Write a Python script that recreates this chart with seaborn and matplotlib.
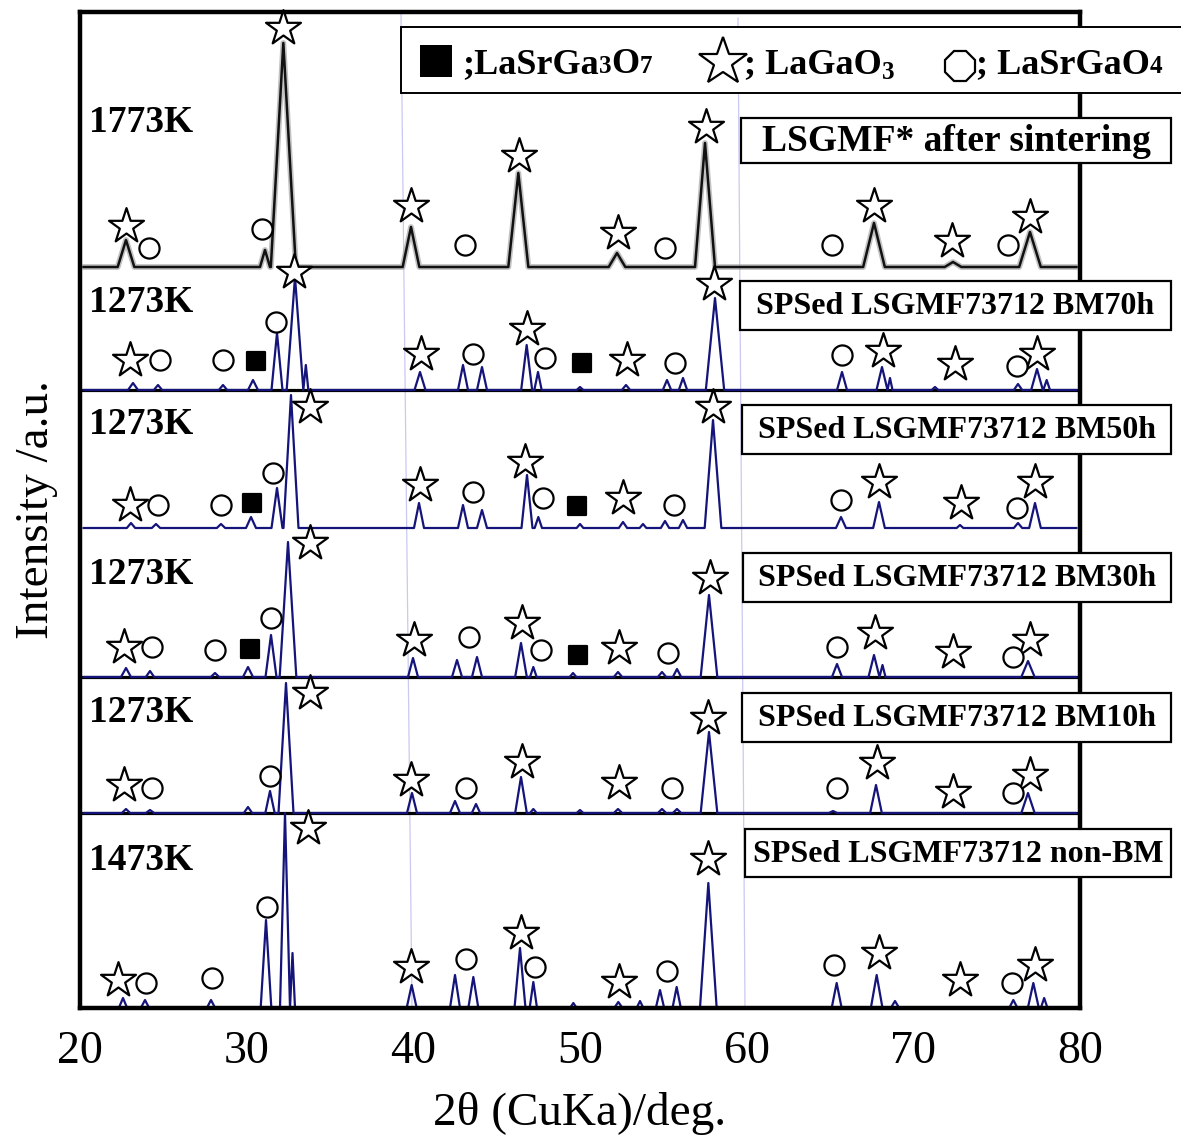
import matplotlib
matplotlib.use("Agg")
import matplotlib.pyplot as plt
from matplotlib.patches import Rectangle
import pandas as pd
import seaborn as sns

# ---------------- diffraction peaks: 2θ (deg), height (a.u.), half base width (deg)
theta_1773 = [22.76, 31.1, 32.2, 39.86, 46.3, 52.22, 57.5, 67.64, 72.38, 77.0]
inten_1773 = [27, 17, 224, 40, 94, 14, 124, 44, 5, 35]
width_1773 = [0.5, 0.3, 0.75, 0.5, 0.6, 0.5, 0.6, 0.65, 0.5, 0.65]

theta_bm70 = [23.18, 24.68, 28.58, 30.38, 31.82, 32.9, 33.55, 40.4, 42.98, 44.12, 46.8, 47.48,
              50.0, 52.76, 55.22, 56.18, 58.1, 65.72, 68.12, 68.6, 71.3, 76.28, 77.42, 78.0]
inten_bm70 = [7, 5, 5, 10, 57, 113, 25, 18, 25, 23, 45, 18,
              3, 5, 10, 12, 92, 18, 23, 12, 3, 6, 21, 10]
width_bm70 = [0.3, 0.25, 0.25, 0.3, 0.33, 0.5, 0.15, 0.33, 0.3, 0.3, 0.33, 0.22,
              0.2, 0.25, 0.25, 0.25, 0.55, 0.3, 0.33, 0.15, 0.2, 0.25, 0.35, 0.2]

theta_bm50 = [23.06, 24.56, 28.46, 30.26, 31.82, 32.66, 40.34, 42.98, 44.12, 46.82, 47.5,
              50.0, 52.58, 53.78, 55.1, 56.18, 57.98, 65.66, 67.94, 72.8, 76.28, 77.3]
inten_bm50 = [5, 4, 4, 11, 40, 133, 25, 23, 18, 53, 11,
              4, 6, 4, 7, 8, 108, 11, 26, 3, 5, 25]
width_bm50 = [0.25, 0.25, 0.25, 0.3, 0.33, 0.45, 0.3, 0.3, 0.3, 0.33, 0.22,
              0.2, 0.25, 0.2, 0.25, 0.25, 0.5, 0.3, 0.35, 0.2, 0.25, 0.35]

theta_bm30 = [22.76, 24.2, 28.1, 30.08, 31.46, 32.48, 39.98, 42.62, 43.82, 46.46, 47.2,
              49.58, 52.28, 54.92, 55.82, 57.74, 65.42, 67.64, 68.15, 76.88]
inten_bm30 = [9, 6, 4, 10, 42, 135, 19, 17, 20, 34, 10,
              4, 5, 5, 8, 82, 13, 22, 12, 16]
width_bm30 = [0.3, 0.25, 0.25, 0.3, 0.33, 0.5, 0.3, 0.3, 0.3, 0.35, 0.2,
              0.2, 0.25, 0.25, 0.25, 0.5, 0.3, 0.33, 0.18, 0.4]

theta_bm10 = [22.76, 24.2, 30.08, 31.4, 32.36, 39.92, 42.5, 43.76, 46.46, 47.2,
              50.0, 52.28, 54.92, 55.82, 57.74, 65.18, 67.76, 76.88]
inten_bm10 = [4, 3, 6, 22, 130, 20, 12, 9, 36, 4,
              3, 4, 4, 4, 81, 2, 28, 20]
width_bm10 = [0.25, 0.25, 0.25, 0.28, 0.45, 0.3, 0.3, 0.25, 0.35, 0.2,
              0.2, 0.25, 0.25, 0.25, 0.5, 0.25, 0.35, 0.4]

theta_nonbm = [22.58, 23.9, 27.86, 31.16, 32.3, 32.75, 39.9, 42.5, 43.6, 46.4, 47.2, 49.6,
               52.3, 53.6, 54.8, 55.8, 57.7, 65.4, 67.8, 68.9, 76.0, 77.2, 77.85]
inten_nonbm = [10, 8, 8, 88, 195, 55, 23, 33, 31, 60, 26, 5,
               6, 7, 18, 21, 125, 25, 33, 7, 8, 25, 10]
width_nonbm = [0.25, 0.25, 0.25, 0.32, 0.3, 0.15, 0.3, 0.3, 0.3, 0.33, 0.22, 0.2,
               0.25, 0.2, 0.25, 0.25, 0.5, 0.3, 0.35, 0.25, 0.25, 0.33, 0.2]

# ---------------- phase identification marks: 2θ and height above each pattern's baseline
# LaGaO3 (star)
star_t_1773 = [22.76, 32.18, 39.86, 46.34, 52.28, 57.56, 67.64, 72.32, 77.0]
star_h_1773 = [41, 239, 61, 111, 34, 140, 61, 26, 50]
star_t_bm70 = [23.0, 32.84, 40.46, 46.82, 52.82, 58.04, 68.18, 72.5, 77.42]
star_h_bm70 = [30, 118, 36, 61, 30, 106, 39, 26, 36]
star_t_bm50 = [23.0, 33.8, 40.4, 46.7, 52.58, 57.98, 67.94, 72.86, 77.3]
star_h_bm50 = [23, 121, 43, 66, 30, 121, 46, 25, 46]
star_t_bm30 = [22.64, 33.8, 40.04, 46.52, 52.34, 57.8, 67.7, 72.38, 77.0]
star_h_bm30 = [30, 134, 37, 54, 29, 99, 44, 25, 37]
star_t_bm10 = [22.64, 33.8, 39.86, 46.52, 52.34, 57.68, 67.82, 72.38, 77.0]
star_h_bm10 = [28, 120, 33, 51, 30, 95, 50, 21, 38]
star_t_nonbm = [22.28, 33.68, 39.86, 46.46, 52.34, 57.68, 67.94, 72.8, 77.3]
star_h_nonbm = [28, 180, 41, 75, 26, 149, 55, 28, 43]

# LaSrGaO4 (circle)
circ_t_1773 = [24.14, 30.92, 43.1, 55.1, 65.12, 75.68]
circ_h_1773 = [19, 38, 22, 19, 22, 22]
circ_t_bm70 = [24.8, 28.58, 31.76, 43.58, 47.9, 55.7, 65.72, 76.22]
circ_h_bm70 = [30, 30, 68, 36, 32, 27, 35, 24]
circ_t_bm50 = [24.68, 28.46, 31.58, 43.58, 47.78, 55.64, 65.66, 76.22]
circ_h_bm50 = [23, 23, 55, 36, 30, 23, 28, 20]
circ_t_bm30 = [24.32, 28.1, 31.46, 43.34, 47.66, 55.28, 65.42, 75.98]
circ_h_bm30 = [30, 27, 59, 40, 27, 24, 30, 20]
circ_t_bm10 = [24.32, 31.4, 43.16, 55.52, 65.42, 75.98]
circ_h_bm10 = [25, 37, 25, 25, 25, 20]
circ_t_nonbm = [23.96, 27.92, 31.22, 43.16, 47.3, 55.22, 65.24, 75.92]
circ_h_nonbm = [25, 30, 101, 49, 41, 37, 43, 25]

# LaSrGa3O7 (filled square)
sq_t_bm70 = [30.56, 50.12]
sq_h_bm70 = [29, 27]
sq_t_bm50 = [30.32, 49.82]
sq_h_bm50 = [25, 22]
sq_t_bm30 = [30.2, 49.88]
sq_h_bm30 = [28, 22]

sample_names = ["LSGMF* after sintering", "SPSed LSGMF73712 BM70h", "SPSed LSGMF73712 BM50h",
                "SPSed LSGMF73712 BM30h", "SPSed LSGMF73712 BM10h", "SPSed LSGMF73712 non-BM"]
temperatures = ["1773K", "1273K", "1273K", "1273K", "1273K", "1473K"]
x_ticks = [20, 30, 40, 50, 60, 70, 80]

patterns = [(theta_1773, inten_1773, width_1773), (theta_bm70, inten_bm70, width_bm70),
            (theta_bm50, inten_bm50, width_bm50), (theta_bm30, inten_bm30, width_bm30),
            (theta_bm10, inten_bm10, width_bm10), (theta_nonbm, inten_nonbm, width_nonbm)]
stars = [(star_t_1773, star_h_1773), (star_t_bm70, star_h_bm70), (star_t_bm50, star_h_bm50),
         (star_t_bm30, star_h_bm30), (star_t_bm10, star_h_bm10), (star_t_nonbm, star_h_nonbm)]
circles = [(circ_t_1773, circ_h_1773), (circ_t_bm70, circ_h_bm70), (circ_t_bm50, circ_h_bm50),
           (circ_t_bm30, circ_h_bm30), (circ_t_bm10, circ_h_bm10), (circ_t_nonbm, circ_h_nonbm)]
squares = [([], []), (sq_t_bm70, sq_h_bm70), (sq_t_bm50, sq_h_bm50),
           (sq_t_bm30, sq_h_bm30), ([], []), ([], [])]

# ---------------- layout
W, H = 1181, 1135
offsets = [741, 618, 480, 331, 195, 0]          # stacking offset of each pattern
label_y = [123, 302, 424, 575, 712, 860]        # temperature label centres (px)
box_rows = [(118, 163), (281, 330), (405, 454), (553, 602), (693, 742), (829, 877)]
box_lefts = [741, 740, 742, 743, 742, 745]
separators = [618, 331, 195]
SERIF = ["Liberation Serif", "DejaVu Serif"]

sns.set_style("white")
plt.rcParams["font.family"] = SERIF
plt.rcParams["text.color"] = "black"
plt.rcParams["axes.labelcolor"] = "black"
plt.rcParams["xtick.color"] = "black"
plt.rcParams["ytick.color"] = "black"

fig = plt.figure(figsize=(W / 100, H / 100), dpi=100)
ax = fig.add_axes([80 / W, (H - 1008) / H, 1000 / W, 996 / H])
ax.set_xlim(20, 80)
ax.set_ylim(0, 996)


def profile(theta, inten, width, start=20.2, stop=79.8):
    xs, ys = [start], [0.0]
    for c, h, w in sorted(zip(theta, inten, width)):
        xs += [c - w, c, c + w]
        ys += [0.0, h, 0.0]
    xs.append(stop)
    ys.append(0.0)
    return xs, ys


for y0 in separators:
    ax.axhline(y0, color="black", lw=2.3, zorder=1.5)

# faint vertical guide lines of the original recorder chart
ax.plot([39.26, 39.92], [996, 0], color="#c9c9f2", lw=0.9, zorder=1)
ax.plot([59.48, 59.9], [990, 0], color="#c9c9f2", lw=0.9, zorder=1)

for i, (th, it, wd) in enumerate(patterns):
    xs, ys = profile(th, it, wd)
    df = pd.DataFrame({"two_theta": xs, "intensity": [v + offsets[i] for v in ys]})
    if i == 0:
        sns.lineplot(data=df, x="two_theta", y="intensity", estimator=None, sort=False,
                     color="#9a9a9a", lw=4.2, alpha=0.6, ax=ax, zorder=2)
        sns.lineplot(data=df, x="two_theta", y="intensity", estimator=None, sort=False,
                     color="#111111", lw=1.8, ax=ax, zorder=2.1)
    else:
        sns.lineplot(data=df, x="two_theta", y="intensity", estimator=None, sort=False,
                     color="#14147a", lw=1.6, ax=ax, zorder=2)

marker_sets = [(stars, "*", 700, "white"), (circles, "o", 210, "white"), (squares, "s", 150, "black")]
for group, mk, size, face in marker_sets:
    for i, (t, h) in enumerate(group):
        if not t:
            continue
        df = pd.DataFrame({"two_theta": t, "intensity": [v + offsets[i] for v in h]})
        sns.scatterplot(data=df, x="two_theta", y="intensity", marker=mk, s=size,
                        color=face, edgecolor="black", linewidth=1.6, ax=ax, zorder=5,
                        clip_on=False)

for side in ["left", "right", "top", "bottom"]:
    ax.spines[side].set_linewidth(3.2)
    ax.spines[side].set_color("black")
ax.set_yticks([])
ax.set_xticks(x_ticks)
ax.set_xticklabels([str(v) for v in x_ticks])
ax.tick_params(axis="x", length=0, pad=16, labelsize=33, colors="black")
ax.set_xlabel("2θ (CuKa)/deg.", fontsize=34, labelpad=14, color="black")
ax.set_ylabel("Intensity /a.u.", fontsize=34, labelpad=16, color="black")

# ---------------- annotation layer in pixel coordinates
ov = fig.add_axes([0, 0, 1, 1], zorder=10)
ov.set_xlim(0, W)
ov.set_ylim(H, 0)
ov.axis("off")

for i in range(len(sample_names)):
    top, bot = box_rows[i]
    left = box_lefts[i]
    ov.add_patch(Rectangle((left, top), 1171 - left, bot - top, facecolor="white",
                           edgecolor="black", lw=1.6))
    size = 27 if i == 0 else 23
    ov.text((left + 1171) / 2, (top + bot) / 2 + 1, sample_names[i], fontsize=size,
            fontweight="bold", ha="center", va="center", color="black")
    ov.text(89, label_y[i], temperatures[i], fontsize=27, fontweight="bold",
            ha="left", va="center", color="black")

# phase key
ov.add_patch(Rectangle((401, 27), 800, 66, facecolor="white", edgecolor="black", lw=1.4))
renderer = fig.canvas.get_renderer()


def text_runs(x, y, runs):
    for s, size, dy in runs:
        t = ov.text(x, y + dy, s, fontsize=size, fontweight="bold", ha="left",
                    va="baseline", color="black")
        x = t.get_window_extent(renderer).x1
    return x


ov.add_patch(Rectangle((420, 45), 32, 32, facecolor="black", edgecolor="black", lw=0))
text_runs(462, 73, [(";LaSrGa", 26, 0), ("3", 18, 0), ("O", 26, 0), ("7", 18, 0)])
ov.plot([723], [62], marker="*", ms=36, mfc="white", mec="black", mew=1.6, ls="none")
text_runs(744, 73, [("; LaGaO", 26, 0), ("3", 18, 6)])
ov.plot([960], [66], marker="8", ms=23, mfc="white", mec="black", mew=1.6, ls="none")
text_runs(976, 73, [("; LaSrGaO", 26, 0), ("4", 18, 0)])

fig.savefig("out.png", dpi=100)
